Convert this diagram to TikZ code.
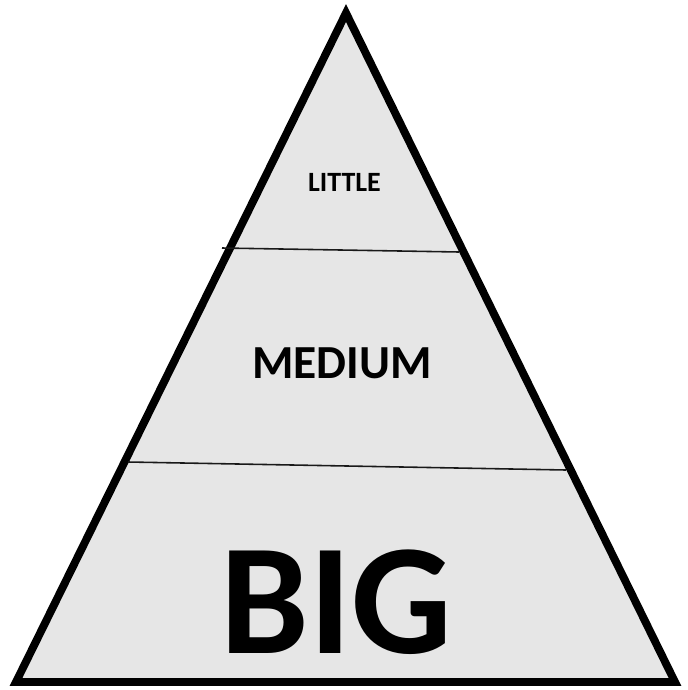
\documentclass[tikz,border=0pt]{standalone}
\usepackage{fontspec}
\setmainfont{Carlito}
\usetikzlibrary{positioning}
\usetikzlibrary{calc}

\begin{document}
\begin{tikzpicture}[x=0.02cm, y=-0.02cm,
    level/.style={font=\bfseries, inner sep=0pt, anchor=center},
    divider/.style={line width=0.9pt, black!90}]

    \useasboundingbox (0,0) rectangle (687,690);

    % corners of the pyramid
    \coordinate (top) at (346,13);
    \coordinate (left) at (16,682);
    \coordinate (right) at (675,682);

    \draw[line width=4.5pt, fill={rgb,255:red,230;green,230;blue,230}] (top) -- (right) -- (left) -- cycle;

    % dividing lines
    \coordinate (d1a) at (222,248);
    \coordinate (d1b) at (459,252);
    \coordinate (d2a) at (128,462);
    \coordinate (d2b) at (566,470);

    \draw[divider] (d1a) -- (d1b);
    \draw[divider] (d2a) -- (d2b);

    \node[level] (little) at (344.5,182) {\fontsize{15.9}{18}\selectfont LITTLE};
    \node[level] (medium) at (342,363) {\fontsize{27}{30}\selectfont MEDIUM};
    \node[level] (big) at (336.5,602) {\fontsize{90}{96}\selectfont BIG};

\end{tikzpicture}
\end{document}
